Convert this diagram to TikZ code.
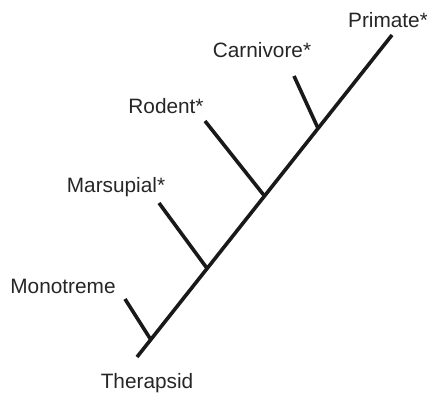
\documentclass[tikz,border=0pt]{standalone}
\usepackage{fontspec}
\setmainfont{Liberation Sans}
\usetikzlibrary{calc}
\begin{document}
\begin{tikzpicture}[x=1pt,y=-1pt,
  edge/.style={line width=3.6pt,color=black!90},
  taxon/.style={inner sep=0pt,font=\fontsize{20.8}{24}\selectfont,text=black!85}]
\useasboundingbox (0,0) rectangle (427,392);
% main stem
\coordinate (root) at (137,357);
\coordinate (top) at (392,35);
% junctions on the stem
\coordinate (jmono) at ($(root)!0.054!(top)$);
\coordinate (jmars) at ($(root)!0.275!(top)$);
\coordinate (jrod) at ($(root)!0.5!(top)$);
\coordinate (jcarn) at ($(root)!0.71!(top)$);
% branch tips
\coordinate (tmono) at (125,299);
\coordinate (tmars) at (159,203);
\coordinate (trod) at (205,121);
\coordinate (tcarn) at (294,76);
\draw[edge] (root) -- (top);
\draw[edge] (jmono) -- (tmono);
\draw[edge] (jmars) -- (tmars);
\draw[edge] (jrod) -- (trod);
\draw[edge] (jcarn) -- (tcarn);
% labels
\node[taxon] (primate) at (388,20) {Primate*};
\node[taxon] (carnivore) at (262,50) {Carnivore*};
\node[taxon] (rodent) at (166,106) {Rodent*};
\node[taxon] (marsupial) at (116,187) {Marsupial*};
\node[taxon] (monotreme) at (63,286) {Monotreme};
\node[taxon] (therapsid) at (147,383) {Therapsid};
\end{tikzpicture}
\end{document}
